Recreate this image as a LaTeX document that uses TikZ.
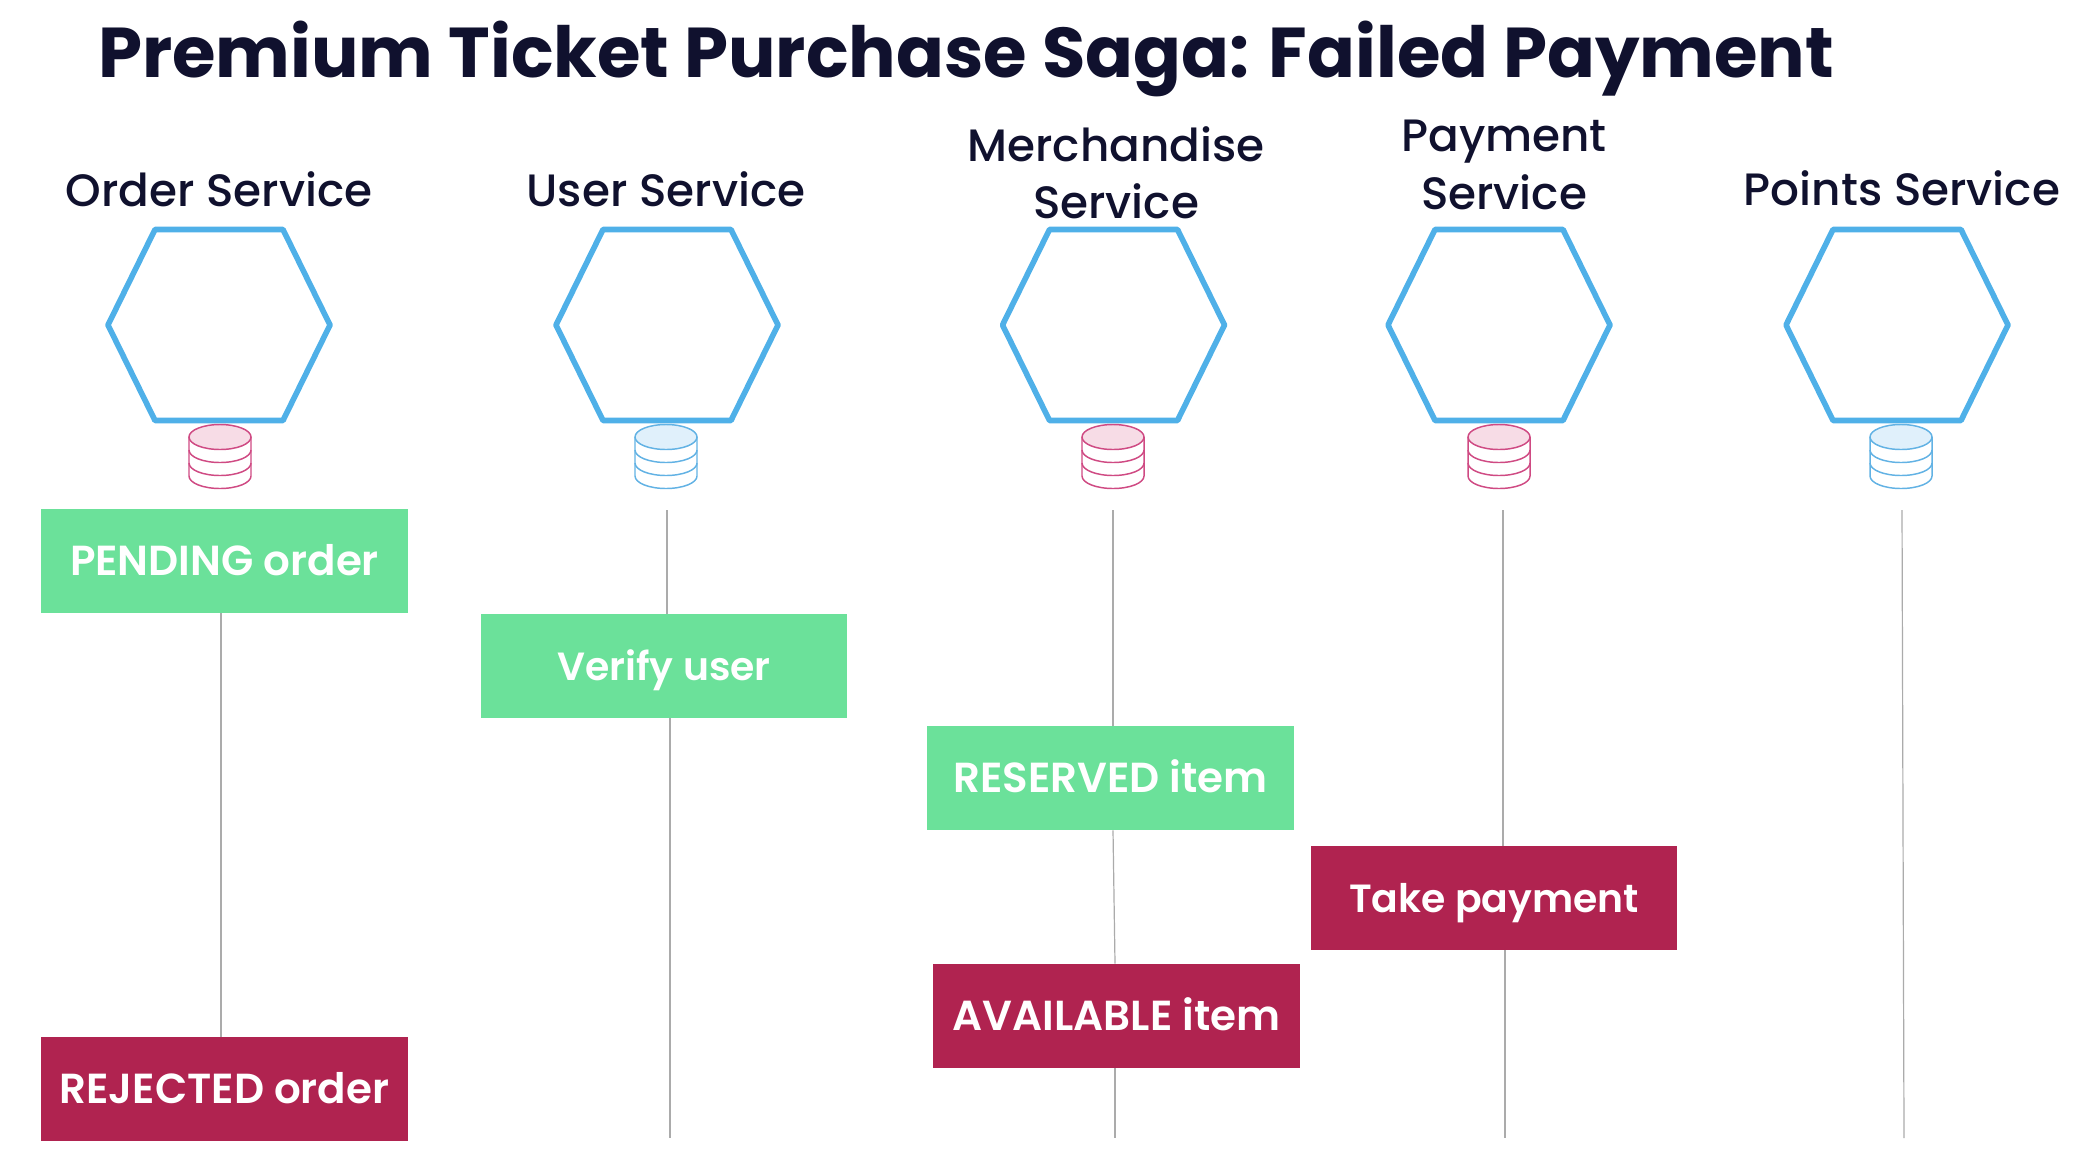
\documentclass[tikz,border=0pt]{standalone}
\usepackage{xcolor}
\usepackage{fontspec}
\usepackage{tikz}
\setmainfont{Poppins}
\newfontfamily\medfont{Poppins Medium}
\newfontfamily\semifont{Poppins SemiBold}

\definecolor{titleink}{HTML}{10112E}
\definecolor{hexblue}{HTML}{4FB0E8}
\definecolor{goodgreen}{HTML}{6BE19A}
\definecolor{badred}{HTML}{B02350}
\definecolor{lifegrey}{HTML}{ABABAB}
\definecolor{dbpinkline}{HTML}{CF4A83}
\definecolor{dbpinkfill}{HTML}{F7DCE6}
\definecolor{dbblueline}{HTML}{62B2E4}
\definecolor{dbbluefill}{HTML}{E0F0FB}

\tikzset{
  svclabel/.style={text=titleink,align=center,font=\medfont\fontsize{34}{43}\selectfont},
  savebox/.style={minimum width=275pt,minimum height=78.5pt,inner sep=0pt,outer sep=0pt,text=white,text height=21.5pt,text depth=0pt,font=\semifont\fontsize{31.5}{36}\selectfont},
  narrowtext/.style={font=\semifont\fontsize{29.5}{36}\selectfont},
  okbox/.style={savebox,fill=goodgreen},
  failbox/.style={savebox,fill=badred},
  lifeline/.style={draw=lifegrey,line width=0.9pt},
  pics/hexcell/.style={code={
    \draw[draw=hexblue,line width=4.2pt,line join=round] (-111,0) -- (-64,95.5) -- (64,95.5) -- (111,0) -- (64,-95.5) -- (-64,-95.5) -- cycle;
  }},
  pics/dbstack/.style 2 args={code={
    \begin{scope}[yscale=-1]
    \draw[draw=#1,line width=1.1pt] (-31,0) -- (-31,39) arc[start angle=180,end angle=0,x radius=31,y radius=12.5] -- (31,0);
    \draw[draw=#1,line width=1.1pt] (-31,13) arc[start angle=180,end angle=0,x radius=31,y radius=12.5];
    \draw[draw=#1,line width=1.1pt] (-31,26) arc[start angle=180,end angle=0,x radius=31,y radius=12.5];
    \draw[draw=#1,fill=#2,line width=1.1pt] (0,0) ellipse [x radius=31,y radius=12.5];
    \end{scope}
  }}
}

\begin{document}
\begin{tikzpicture}[x=0.75pt,y=0.75pt,yscale=-1,xscale=1]
  \useasboundingbox (0,0) rectangle (2076,1154);

  % Title
  \node (title) [anchor=base west,inner sep=0pt,text=titleink,font=\bfseries\fontsize{52.9}{60}\selectfont] at (98,77) {Premium Ticket Purchase Saga: Failed Payment};

  % Service labels
  \node (orderlabel) [svclabel] at (219,189) {Order Service};
  \node (userlabel) [svclabel] at (666,189) {User Service};
  \node (merchlabel) [svclabel] at (1116,173) {Merchandise\\Service};
  \node (paylabel) [svclabel] at (1504,165) {Payment\\Service};
  \node (pointslabel) [svclabel] at (1902,188) {Points Service};

  % Hexagons
  \pic (orderhex) at (219,325) {hexcell};
  \pic (userhex) at (667,325) {hexcell};
  \pic (merchhex) at (1113.5,325) {hexcell};
  \pic (payhex) at (1499,325) {hexcell};
  \pic (pointshex) at (1897,325) {hexcell};

  % Databases
  \pic (orderdb) at (220,437) {dbstack={dbpinkline}{dbpinkfill}};
  \pic (userdb) at (666,437) {dbstack={dbblueline}{dbbluefill}};
  \pic (merchdb) at (1113,437) {dbstack={dbpinkline}{dbpinkfill}};
  \pic (paydb) at (1499,437) {dbstack={dbpinkline}{dbpinkfill}};
  \pic (pointsdb) at (1901,437) {dbstack={dbblueline}{dbbluefill}};

  % Saga steps
  \node (pending) [okbox] at (224.5,561) {PENDING order};
  \node (verify) [okbox,narrowtext] at (664,666) {Verify user};
  \node (reserved) [okbox] at (1110.5,778) {RESERVED item};
  \node (takepay) [failbox,narrowtext] at (1494,898) {Take payment};
  \node (available) [failbox] at (1116.5,1016) {AVAILABLE item};
  \node (rejected) [failbox] at (224.5,1089) {REJECTED order};

  % Lifeline ends
  \coordinate (usertop) at (667,510);
  \coordinate (userend) at (670,1138);
  \coordinate (merchtop) at (1113,510);
  \coordinate (merchend) at (1115,1138);
  \coordinate (paytop) at (1503,510);
  \coordinate (payend) at (1505,1138);
  \coordinate (pointstop) at (1902,510);
  \coordinate (pointsend) at (1904,1138);
  \coordinate (orderx) at (221,800);

  % Lifelines
  \draw[lifeline] (orderx |- pending.south) -- (orderx |- rejected.north);
  \draw[lifeline] (usertop) -- (usertop |- verify.north);
  \draw[lifeline] (userend |- verify.south) -- (userend);
  \draw[lifeline] (merchtop) -- (merchtop |- reserved.north);
  \draw[lifeline] (merchtop |- reserved.south) -- (merchend |- available.north);
  \draw[lifeline] (merchend |- available.south) -- (merchend);
  \draw[lifeline] (paytop) -- (paytop |- takepay.north);
  \draw[lifeline] (payend |- takepay.south) -- (payend);
  \draw[lifeline] (pointstop) -- (pointsend);
\end{tikzpicture}
\end{document}
